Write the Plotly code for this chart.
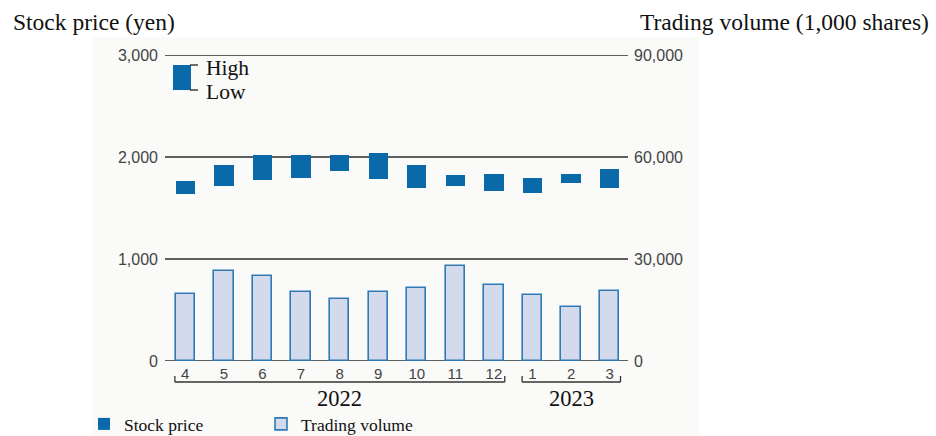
import plotly.graph_objects as go

# ---- data ----
months = ["4", "5", "6", "7", "8", "9", "10", "11", "12", "1", "2", "3"]
price_high = [1765, 1922, 2017, 2017, 2017, 2040, 1926, 1821, 1831, 1799, 1838, 1887]
price_low = [1635, 1717, 1772, 1795, 1863, 1789, 1701, 1720, 1664, 1651, 1750, 1701]
volume = [19700, 26400, 25100, 20200, 18200, 20400, 21600, 28000, 22400, 19500, 15900, 20700]
price_ticks = [0, 1000, 2000, 3000]
price_ticktext = ["0", "1,000", "2,000", "3,000"]
volume_ticks = [0, 30000, 60000, 90000]
volume_ticktext = ["0", "30,000", "60,000", "90,000"]
years = ["2022", "2023"]
year_groups = [(0, 8), (9, 11)]  # index ranges of months in each year

# ---- layout geometry (pixels) ----
W, H = 936, 436
L, R = 166, 629          # plot left/right
T, B = 55, 361           # plot top/bottom
PW, PH = R - L, B - T

def px(x):
    return (x - L) / PW

def py(y):
    return (B - y) / PH

DARK = "#0a69a8"
LIGHT = "#d3daeb"
EDGE = "#2f7ab6"
GRID = "#2b2b2b"
SERIF = "Liberation Serif"
SANS = "Liberation Sans"

fig = go.Figure()

fig.add_trace(go.Bar(
    x=months, y=volume, yaxis="y2", name="Trading volume",
    width=0.5, marker=dict(color=LIGHT, line=dict(color=EDGE, width=1.6)),
))
fig.add_trace(go.Bar(
    x=months, base=price_low, y=[h - l for h, l in zip(price_high, price_low)],
    name="Stock price", width=0.5,
    marker=dict(color=DARK, line=dict(width=0)),
))

shapes = []
# background panel
shapes.append(dict(type="rect", xref="paper", yref="paper", x0=px(92), x1=px(699),
                   y0=py(437), y1=py(37), fillcolor="#fafaf8", line=dict(width=0), layer="below"))
# gridlines
for v in price_ticks:
    shapes.append(dict(type="line", xref="paper", yref="y", x0=px(165), x1=px(628),
                       y0=v, y1=v, line=dict(color=GRID, width=1.3), layer="below"))

# year brackets
annotations = []
for (a, b), label in zip(year_groups, years):
    x0, x1 = a - 0.27, b + 0.28
    yb, yt = py(382), py(376)
    shapes.append(dict(type="line", xref="x", yref="paper", x0=x0, x1=x1, y0=yb, y1=yb,
                       line=dict(color="#333", width=1.3)))
    shapes.append(dict(type="line", xref="x", yref="paper", x0=x0, x1=x0, y0=yb, y1=yt,
                       line=dict(color="#333", width=1.3)))
    shapes.append(dict(type="line", xref="x", yref="paper", x0=x1, x1=x1, y0=yb, y1=yt,
                       line=dict(color="#333", width=1.3)))
    annotations.append(dict(text=label, xref="x", yref="paper", x=(x0 + x1) / 2, y=py(398),
                            showarrow=False, xanchor="center", yanchor="middle",
                            font=dict(family=SERIF, size=22.5, color="#111")))

# High/Low key
shapes.append(dict(type="rect", xref="paper", yref="paper", x0=px(173), x1=px(191),
                   y0=py(90), y1=py(65), fillcolor=DARK, line=dict(width=0)))
for yy in (65, 90):
    shapes.append(dict(type="line", xref="paper", yref="paper", x0=px(190), x1=px(198),
                       y0=py(yy), y1=py(yy), line=dict(color="#222", width=1.3)))
annotations.append(dict(text="High", xref="paper", yref="paper", x=px(204), y=py(68),
                        showarrow=False, xanchor="left", yanchor="middle",
                        font=dict(family=SERIF, size=21.5, color="#111")))
annotations.append(dict(text="Low", xref="paper", yref="paper", x=px(204), y=py(92),
                        showarrow=False, xanchor="left", yanchor="middle",
                        font=dict(family=SERIF, size=21.5, color="#111")))

# axis titles
annotations.append(dict(text="Stock price (yen)", xref="paper", yref="paper", x=px(11), y=py(22),
                        showarrow=False, xanchor="left", yanchor="middle",
                        font=dict(family=SERIF, size=23.5, color="#111")))
annotations.append(dict(text="Trading volume (1,000 shares)", xref="paper", yref="paper",
                        x=px(931), y=py(22), showarrow=False, xanchor="right", yanchor="middle",
                        font=dict(family=SERIF, size=23.5, color="#111")))

fig.update_layout(
    width=W, height=H,
    margin=dict(l=L, r=W - R, t=T, b=H - B, autoexpand=False),
    paper_bgcolor="white", plot_bgcolor="rgba(0,0,0,0)",
    barmode="overlay", bargap=0,
    showlegend=True,
    legend=dict(orientation="h", x=px(84), xanchor="left", y=py(424), yanchor="middle",
                traceorder="reversed", font=dict(family=SERIF, size=17.5, color="#111"),
                entrywidth=132, entrywidthmode="pixels", bgcolor="rgba(0,0,0,0)"),
    xaxis=dict(type="category", range=[-0.5, 11.5], showgrid=False, zeroline=False,
               showline=False, ticks="", tickfont=dict(family=SANS, size=15, color="#444"),
               ticklabelstandoff=2),
    yaxis=dict(range=[0, 3000], tickvals=price_ticks, ticktext=price_ticktext,
               showgrid=False, zeroline=False, showline=False, ticks="",
               ticklabelstandoff=7, tickfont=dict(family=SANS, size=16, color="#444")),
    yaxis2=dict(range=[0, 90000], overlaying="y", side="right", tickvals=volume_ticks,
                ticktext=volume_ticktext, showgrid=False, zeroline=False, showline=False,
                ticks="", ticklabelstandoff=4, tickfont=dict(family=SANS, size=16, color="#444")),
    shapes=shapes, annotations=annotations,
)

fig.write_html("out.html")
